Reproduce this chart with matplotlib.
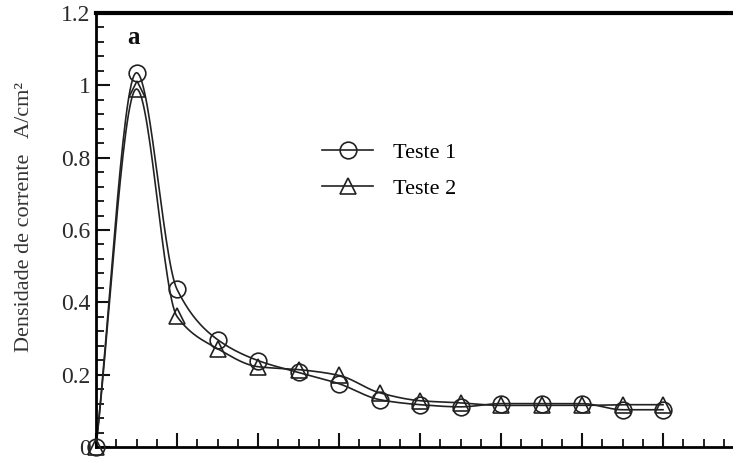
import numpy as np
import matplotlib
matplotlib.use('Agg')
import matplotlib.pyplot as plt
from matplotlib.lines import Line2D
from matplotlib.ticker import MultipleLocator

# dados
pontos = np.arange(15)
teste1 = [0, 1.035, 0.436, 0.297, 0.239, 0.206, 0.175, 0.131, 0.117, 0.111,
          0.120, 0.120, 0.120, 0.103, 0.103]
teste2 = [0, 0.990, 0.361, 0.272, 0.222, 0.214, 0.198, 0.150, 0.128, 0.122,
          0.115, 0.115, 0.115, 0.117, 0.117]
yticks = [0, 0.2, 0.4, 0.6, 0.8, 1.0, 1.2]
ylabels = ['0', '0.2', '0.4', '0.6', '0.8', '1', '1.2']


def suave(x, y, n=30):
    # curva monotona (PCHIP) passando pelos pontos, só para desenhar a linha
    x = np.asarray(x, float)
    y = np.asarray(y, float)
    h = np.diff(x)
    d = np.diff(y) / h
    m = np.zeros_like(y)
    for k in range(1, len(y) - 1):
        if d[k - 1] * d[k] > 0:
            w1 = 2 * h[k] + h[k - 1]
            w2 = h[k] + 2 * h[k - 1]
            m[k] = (w1 + w2) / (w1 / d[k - 1] + w2 / d[k])
    m[0] = d[0]
    m[-1] = d[-1]
    xs, ys = [], []
    t = np.linspace(0, 1, n, endpoint=False)
    for k in range(len(y) - 1):
        h00 = 2 * t ** 3 - 3 * t ** 2 + 1
        h10 = t ** 3 - 2 * t ** 2 + t
        h01 = -2 * t ** 3 + 3 * t ** 2
        h11 = t ** 3 - t ** 2
        xs.extend(x[k] + t * h[k])
        ys.extend(h00 * y[k] + h10 * h[k] * m[k] + h01 * y[k + 1] + h11 * h[k] * m[k + 1])
    xs.append(x[-1])
    ys.append(y[-1])
    return np.array(xs), np.array(ys)


plt.rcParams['font.family'] = ['Liberation Serif', 'DejaVu Serif']

fig = plt.figure(figsize=(7.33, 4.63), dpi=100)
ax = fig.add_axes([96 / 733, 16 / 463, 1 - 96 / 733, 434 / 463])

for y, m in ((teste1, 'o'), (teste2, '^')):
    sx, sy = suave(pontos, y)
    ax.plot(sx, sy, color='#222222', lw=1.2, clip_on=False)
    ax.plot(pontos, y, ls='none', marker=m, ms=12 if m == 'o' else 11,
            mfc='none', mec='#222222', mew=1.2, clip_on=False, zorder=3)

ax.set_xlim(0, (733 - 96) / 40.5)
ax.set_ylim(0, 1.2)
ax.set_yticks(yticks)
ax.set_yticklabels(ylabels)
ax.yaxis.set_minor_locator(MultipleLocator(0.04))
ax.xaxis.set_major_locator(MultipleLocator(2))
ax.xaxis.set_minor_locator(MultipleLocator(0.5))
ax.tick_params(axis='x', which='both', labelbottom=False)
ax.tick_params(which='major', direction='in', length=10, width=1.5, color='#111111')
ax.tick_params(which='minor', direction='in', length=6, width=1.3, color='#111111')
ax.tick_params(axis='y', labelsize=17, labelcolor='#2a2a2a', pad=4)

ax.spines['right'].set_visible(False)
ax.spines['top'].set_linewidth(3)
ax.spines['left'].set_linewidth(2)
ax.spines['bottom'].set_linewidth(2)

fig.text(25 / 733, 1 - 217 / 463, 'Densidade de corrente   A/cm²', rotation=90,
         ha='center', va='center', fontsize=16, color='#333333')
fig.text(133 / 733, 1 - 38 / 463, 'a', fontsize=18, fontweight='bold',
         ha='center', va='center', color='#111111')

handles = [Line2D([], [], color='#222222', lw=1.2, marker='o', ms=12, mfc='none',
                  mec='#222222', mew=1.2),
           Line2D([], [], color='#222222', lw=1.2, marker='^', ms=11, mfc='none',
                  mec='#222222', mew=1.2)]
ax.legend(handles, ['Teste 1', 'Teste 2'], loc='upper left',
          bbox_to_anchor=(322 / 733, 1 - 142 / 463), bbox_transform=fig.transFigure,
          frameon=False, fontsize=16, handlelength=2.3, handletextpad=0.9,
          labelspacing=0.7, borderpad=0, borderaxespad=0)

fig.savefig('out.png', dpi=100)
